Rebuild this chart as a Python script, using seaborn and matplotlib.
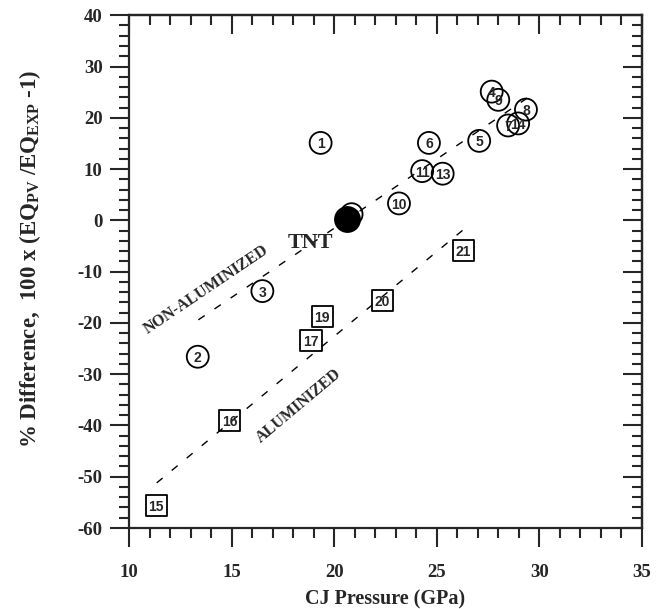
import matplotlib
matplotlib.use('Agg')
import matplotlib.pyplot as plt
import seaborn as sns
from matplotlib.ticker import MultipleLocator

# Non-aluminized explosives (circles)
circle_labels = ['1', '2', '3', '4', '5', '6', '7', '8', '9', '10', '11', '12', '13', '14']
circle_x = [19.34, 13.35, 16.50, 27.68, 27.07, 24.62, 28.48, 29.35, 28.00, 23.16, 24.29, 20.85, 25.29, 28.97]
circle_y = [15.1, -26.6, -13.8, 25.1, 15.5, 15.1, 18.5, 21.6, 23.5, 3.3, 9.6, 1.2, 9.1, 18.9]

# Aluminized explosives (squares)
square_labels = ['15', '16', '17', '19', '20', '21']
square_x = [11.32, 14.92, 18.87, 19.42, 22.36, 26.29]
square_y = [-55.6, -39.0, -23.4, -18.7, -15.6, -5.85]

# TNT reference
tnt_x = [20.61]
tnt_y = [0.3]

# Trend lines
nonal_line_x = [13.38, 29.62]
nonal_line_y = [-19.4, 24.4]
al_line_x = [11.35, 26.26]
al_line_y = [-51.2, -1.95]

sns.set_style('ticks')
plt.rcParams['font.family'] = ['Liberation Serif', 'DejaVu Serif']
plt.rcParams['font.weight'] = 'bold'
plt.rcParams['mathtext.fontset'] = 'custom'
plt.rcParams['mathtext.rm'] = 'Liberation Serif:bold'
plt.rcParams['mathtext.it'] = 'Liberation Serif:bold'
plt.rcParams['mathtext.bf'] = 'Liberation Serif:bold'
plt.rcParams['axes.linewidth'] = 1.6
plt.rcParams['axes.unicode_minus'] = False

fig = plt.figure(figsize=(6.6, 6.09), dpi=100)
ax = fig.add_axes([0.1955, 0.133, 0.777, 0.842])

dash = (0, (5.5, 8.5))
sns.lineplot(x=nonal_line_x, y=nonal_line_y, ax=ax, color='black', linewidth=1.0, linestyle=dash)
sns.lineplot(x=al_line_x, y=al_line_y, ax=ax, color='black', linewidth=1.0, linestyle=dash)

sns.scatterplot(x=circle_x, y=circle_y, ax=ax, marker='o', s=250,
                facecolor='none', edgecolor='black', linewidth=1.3)
sns.scatterplot(x=square_x, y=square_y, ax=ax, marker='s', s=230,
                facecolor='none', edgecolor='black', linewidth=1.3)
for coll in ax.collections:
    coll.set_facecolor('none')
    coll.set_edgecolor('black')
sns.scatterplot(x=tnt_x, y=tnt_y, ax=ax, marker='o', s=320, color='black', edgecolor='black', zorder=5)

num_font = dict(family=['Liberation Sans', 'DejaVu Sans'], fontsize=10, fontweight='bold',
                ha='center', va='center_baseline')
for lab, x, y in zip(circle_labels, circle_x, circle_y):
    ax.text(x, y, lab, **num_font)
for lab, x, y in zip(square_labels, square_x, square_y):
    ax.text(x, y, lab, **num_font)

ax.text(18.82, -4.5, 'TNT', fontsize=16, fontweight='bold', ha='center', va='center')
ax.text(13.75, -13.6, 'NON-ALUMINIZED', fontsize=11.5, fontweight='bold', ha='center', va='center',
        rotation=34, rotation_mode='anchor')
ax.text(18.28, -36.1, 'ALUMINIZED', fontsize=11.5, fontweight='bold', ha='center', va='center',
        rotation=40, rotation_mode='anchor')

ax.set_xlim(10, 35)
ax.set_ylim(-60, 40)
ax.xaxis.set_major_locator(MultipleLocator(5))
ax.xaxis.set_minor_locator(MultipleLocator(1))
ax.yaxis.set_major_locator(MultipleLocator(10))
ax.yaxis.set_minor_locator(MultipleLocator(2))
ax.tick_params(which='major', direction='out', length=14, width=1.5, labelsize=13.5, pad=5)
ax.tick_params(which='minor', direction='out', length=7, width=1.5)
ax.tick_params(axis='x', which='major', pad=12)

secx = ax.secondary_xaxis('top')
secx.xaxis.set_major_locator(MultipleLocator(5))
secx.xaxis.set_minor_locator(MultipleLocator(1))
secx.tick_params(which='major', direction='in', length=14, width=1.5, labeltop=False)
secx.tick_params(which='minor', direction='in', length=7, width=1.5)
secy = ax.secondary_yaxis('right')
secy.yaxis.set_major_locator(MultipleLocator(10))
secy.yaxis.set_minor_locator(MultipleLocator(2))
secy.tick_params(which='major', direction='in', length=14, width=1.5, labelright=False)
secy.tick_params(which='minor', direction='in', length=7, width=1.5)

ax.set_xlabel('CJ Pressure (GPa)', fontsize=14.5, fontweight='bold')
ax.set_ylabel(r'% Difference,  100 x (EQ$_{\mathrm{PV}}$ /EQ$_{\mathrm{EXP}}$ -1)', fontsize=16.5, fontweight='bold')
ax.xaxis.label.set_va('center')
ax.yaxis.label.set_va('center')
ax.xaxis.set_label_coords(0.5, -0.14)
ax.yaxis.set_label_coords(-0.193, 0.526)

fig.savefig('out.png', dpi=100)
